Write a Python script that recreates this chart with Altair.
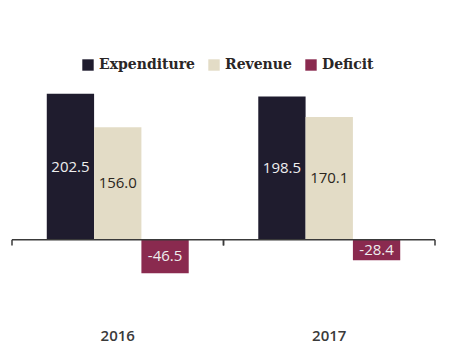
import altair as alt
import pandas as pd

years = ["2016", "2017"]
series = ["Expenditure", "Revenue", "Deficit"]
expenditure = [202.5, 198.5]
revenue = [156.0, 170.1]
deficit = [-46.5, -28.4]
colors = ["#1f1c2e", "#e3dcc6", "#8a2a4f"]

rows = []
for i, y in enumerate(years):
    for s, vals in zip(series, [expenditure, revenue, deficit]):
        rows.append({"year": y, "series": s, "value": vals[i]})
df = pd.DataFrame(rows)

W, H = 423, 202
ydom = [-60, 220]

xaxis = alt.Axis(title=None, domain=False, ticks=False, labelAngle=0,
                 labelPadding=45, labelFontSize=15, labelFont="Open Sans",
                 labelFontWeight=600, labelColor="#3a3a3a")
xscale = alt.Scale(paddingInner=0, paddingOuter=0)
x = alt.X("year:N", sort=years, scale=xscale, axis=xaxis)
xo = alt.XOffset("series:N", sort=series, scale=alt.Scale(paddingInner=0, paddingOuter=0.735))
yscale = alt.Scale(domain=ydom, nice=False, zero=False)
yenc = alt.Y("value:Q", scale=yscale, axis=None)

base = alt.Chart(df)

bars = base.mark_bar(cornerRadius=0).encode(
    x=x, xOffset=xo, y=yenc, y2=alt.datum(0),
    color=alt.Color("series:N", sort=series,
                    scale=alt.Scale(domain=series, range=colors),
                    legend=alt.Legend(title=None, orient="none", direction="horizontal",
                                      legendX=69, legendY=-23, symbolType="square",
                                      symbolSize=130, symbolStrokeWidth=0,
                                      labelFont="DejaVu Serif", labelFontWeight="bold",
                                      labelFontSize=14, labelColor="#2a2626",
                                      labelOffset=4, columnPadding=12)),
)

labels = base.transform_calculate(
    mid="datum.value / 2",
    lab="replace(format(datum.value, '.1f'), '\u2212', '-')",
    tc="datum.series === 'Revenue' ? '#2b2620' : '#eeeeee'",
).mark_text(font="Open Sans", fontSize=15, fontWeight=500, baseline="middle", align="center").encode(
    x=x, xOffset=xo,
    y=alt.Y("mid:Q", scale=yscale, axis=None),
    text="lab:N",
    color=alt.Color("tc:N", scale=None, legend=None),
)

zero_line = alt.Chart(pd.DataFrame({"z": [0]})).mark_rule(color="#3a3a3a", strokeWidth=1.5).encode(
    y=alt.Y("z:Q", scale=yscale, axis=None)
)

ticks_df = pd.DataFrame({"year": years})
tick_left = alt.Chart(ticks_df).mark_rule(color="#3a3a3a", strokeWidth=1.5).encode(
    x=alt.X("year:N", sort=years, bandPosition=0, scale=xscale, axis=xaxis),
    y=alt.datum(0), y2=alt.datum(-8),
)
tick_right = alt.Chart(ticks_df).mark_rule(color="#3a3a3a", strokeWidth=1.5).encode(
    x=alt.X("year:N", sort=years, bandPosition=1, scale=xscale, axis=xaxis),
    y=alt.datum(0), y2=alt.datum(-8),
)

chart = alt.layer(bars, labels, zero_line, tick_left, tick_right).properties(
    width=W, height=H,
    autosize=alt.AutoSizeParams(type="none"),
    padding={"left": 12, "top": 81, "right": 16, "bottom": 72},
    background="#ffffff",
).configure_view(stroke=None)

chart.save("out.html", embed_options={"renderer": "svg", "actions": False})
